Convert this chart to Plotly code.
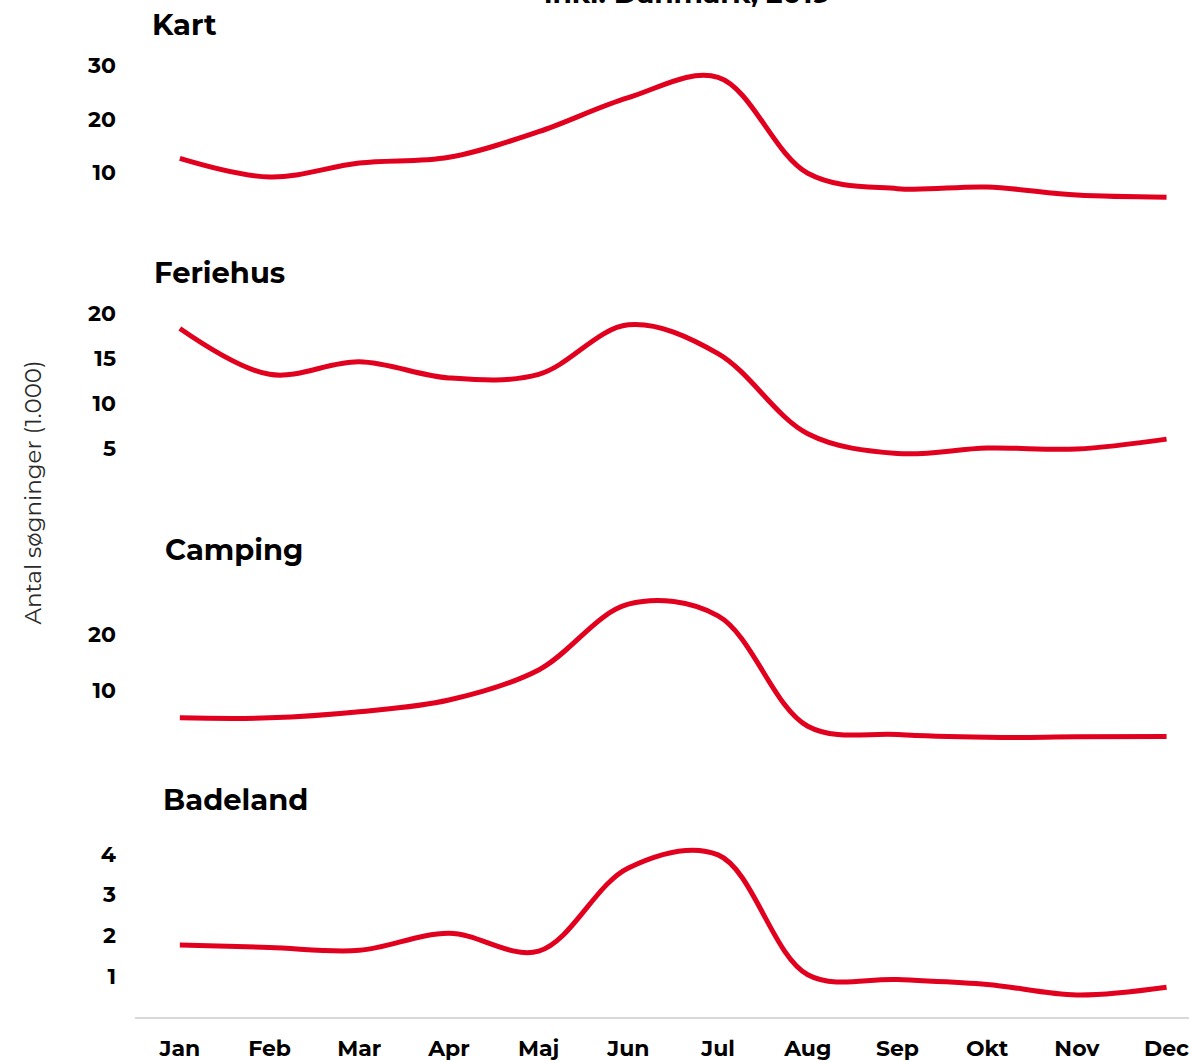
import plotly.graph_objects as go

months = ["Jan", "Feb", "Mar", "Apr", "Maj", "Jun", "Jul", "Aug", "Sep", "Okt", "Nov", "Dec"]

kart = [12.6, 9.1, 11.7, 12.8, 17.6, 24.0, 27.8, 9.8, 6.9, 7.2, 5.7, 5.3]
feriehus = [18.3, 13.2, 14.6, 12.8, 13.2, 18.7, 15.5, 6.6, 4.4, 5.0, 4.9, 6.0]
camping = [5.0, 5.0, 6.1, 8.2, 13.6, 25.4, 23.3, 3.5, 2.0, 1.5, 1.6, 1.65]
badeland = [1.76, 1.70, 1.63, 2.05, 1.61, 3.66, 3.98, 1.03, 0.91, 0.79, 0.53, 0.72]

panel_names = ["Kart", "Feriehus", "Camping", "Badeland"]
panel_values = [kart, feriehus, camping, badeland]
panel_ticks = [[10, 20, 30], [5, 10, 15, 20], [10, 20], [1, 2, 3, 4]]

title_text = "inkl. Danmark, 2019"
ytitle_text = "Antal søgninger (1.000)"

RED = "#E1001E"
FONT = "Montserrat, 'Open Sans', 'Noto Sans', sans-serif"

W, H = 1189, 1062
SHIFT = 3
ML, MR, MT, MB = 135, 0, 0, 43 - SHIFT
PW = W - ML - MR
PH = H - MT - MB

def py(y):
    return 1 - (y - MT) / PH

def px(x):
    return (x - ML) / PW

# layout geometry per panel (page pixels): (zero pixel, px per unit, top pixel, bottom pixel)
geom = [
    (223.5, 5.35, 40, 232),
    (492.5, 9.04, 295, 500),
    (746.4, 5.6, 585, 760),
    (1018.5, 40.8, 835, 1019),
]
title_pos = [(150, 25), (152, 274), (163, 552), (161, 803)]

fig = go.Figure()
layout = dict(
    width=W, height=H,
    margin=dict(l=ML, r=MR, t=MT, b=MB),
    plot_bgcolor="white", paper_bgcolor="white",
    showlegend=False,
    font=dict(family=FONT, color="black"),
)

annotations = []
for i, (name, vals, ticks) in enumerate(zip(panel_names, panel_values, panel_ticks)):
    n = i + 1
    xa = "x" if n == 1 else f"x{n}"
    ya = "y" if n == 1 else f"y{n}"
    fig.add_trace(go.Scatter(
        x=list(range(len(months))), y=vals, mode="lines",
        line=dict(color=RED, width=5, shape="spline", smoothing=1.0),
        xaxis=xa, yaxis=ya, hoverinfo="skip",
    ))
    y0, s, ytop, ybot = geom[i]
    y0, ytop, ybot = y0 + SHIFT, ytop + SHIFT, ybot + SHIFT
    rng = [(y0 - ybot) / s, (y0 - ytop) / s]
    xkey = "xaxis" if n == 1 else f"xaxis{n}"
    ykey = "yaxis" if n == 1 else f"yaxis{n}"
    last = (n == 4)
    layout[xkey] = dict(
        domain=[0, 1], range=[-0.5, 11.25], anchor=ya,
        showgrid=False, zeroline=False,
        showline=last, linecolor="#D9D9D9", linewidth=2,
        tickmode="array", tickvals=list(range(len(months))), ticktext=months,
        showticklabels=last, ticks="", ticklabeloverflow="allow",
        tickfont=dict(family=FONT, size=22, color="black", weight="bold"),
        ticklabelstandoff=11,
    )
    if n > 1:
        layout[xkey]["matches"] = "x"
    layout[ykey] = dict(
        domain=[py(ybot), py(ytop)], range=rng, anchor=xa,
        showgrid=False, zeroline=False, showline=False,
        tickmode="array", tickvals=ticks, ticks="",
        tickfont=dict(family=FONT, size=22, color="black", weight="bold"),
        ticklabelstandoff=18,
    )
    tx, ty = title_pos[i]
    annotations.append(dict(
        text=f"<b>{name}</b>", x=px(tx), y=py(ty), xref="paper", yref="paper",
        xanchor="left", yanchor="middle", showarrow=False,
        font=dict(family=FONT, size=29, color="black"),
    ))

annotations.append(dict(
    text=ytitle_text, x=px(33), y=py(495), xref="paper", yref="paper",
    xanchor="center", yanchor="middle", textangle=-90, showarrow=False,
    font=dict(family=FONT, size=23, color="#2a2a2a"),
))
annotations.append(dict(
    text=f"<b>{title_text}</b>", x=px(687), y=py(12), xref="paper", yref="paper",
    xanchor="center", yanchor="bottom", showarrow=False,
    font=dict(family=FONT, size=28, color="black"),
))
layout["annotations"] = annotations
fig.update_layout(**layout)
fig.write_html(
    "out.html",
    config={"displayModeBar": False},
    post_script="document.body.style.margin='0';document.body.style.overflow='hidden';",
)
